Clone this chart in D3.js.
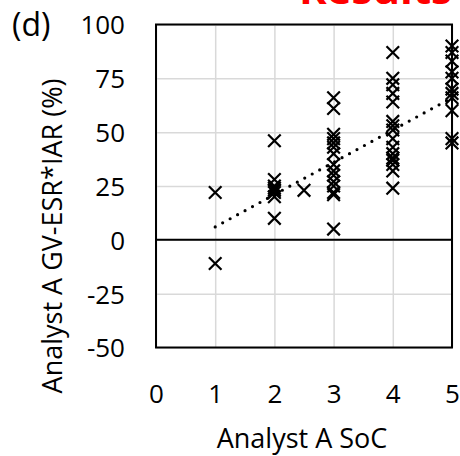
<!DOCTYPE html>
<html>
<head>
<meta charset="utf-8">
<script src="https://cdn.jsdelivr.net/npm/d3@7"></script>
<style>
  body { margin: 0; background: #fff; }
  text { font-family: "Open Sans", "Noto Sans", sans-serif; fill: #000; }
</style>
</head>
<body>
<div id="chart"></div>
<script>
// values
var socLevels = [1, 1, 2, 2, 2, 2, 2, 2, 2, 2, 2.5,
  3, 3, 3, 3, 3, 3, 3, 3, 3, 3, 3, 3, 3, 3, 3,
  4, 4, 4, 4, 4, 4, 4, 4, 4, 4, 4, 4, 4, 4, 4, 4,
  5, 5, 5, 5, 5, 5, 5, 5, 5, 5, 5];
var gvValues = [22, -11, 46, 28, 25, 24, 23, 22, 20, 10, 23,
  66, 61, 49, 47, 45, 43, 40, 35, 32, 30, 27, 25, 22, 21, 5,
  87, 75, 72, 68, 64, 55, 53, 51, 47, 43, 40, 38, 37, 35, 32, 24,
  90, 87, 83, 78, 75, 70, 68, 66, 60, 47, 45];
var trendX = [1, 5];
var trendY = [6, 66];
var xTicks = [0, 1, 2, 3, 4, 5];
var yTicks = [-50, -25, 0, 25, 50, 75, 100];

var W = 460, H = 456;
var margin = {top: 24.5, right: 8, bottom: 108.5, left: 156};
var width = W - margin.left - margin.right,
    height = H - margin.top - margin.bottom;

var svg = d3.select("#chart").append("svg")
  .attr("width", W)
  .attr("height", H);

// red heading cut off at the top
svg.append("text")
  .attr("x", 452)
  .attr("y", 4)
  .attr("text-anchor", "end")
  .style("font-size", "42px")
  .style("font-weight", "bold")
  .style("fill", "#ff0000")
  .text("Results");

svg.append("text")
  .attr("x", 12)
  .attr("y", 36)
  .style("font-size", "32px")
  .text("(d)");

var g = svg.append("g")
  .attr("transform", "translate(" + margin.left + "," + margin.top + ")");

var x = d3.scaleLinear().domain([0, 5]).range([0, width]);
var y = d3.scaleLinear().domain([-50, 100]).range([height, 0]);

// gridlines
g.append("g")
  .attr("class", "grid")
  .call(d3.axisLeft(y).tickValues(yTicks).tickSize(-width).tickFormat(""))
  .call(function(s) { s.select(".domain").remove(); });
g.append("g")
  .attr("class", "grid")
  .attr("transform", "translate(0," + height + ")")
  .call(d3.axisBottom(x).tickValues(xTicks).tickSize(-height).tickFormat(""))
  .call(function(s) { s.select(".domain").remove(); });
g.selectAll(".grid line")
  .style("stroke", "#d9d9d9")
  .style("stroke-width", 1.5);

// tick labels
var yAxis = g.append("g")
  .call(d3.axisLeft(y).tickValues(yTicks).tickSize(0).tickPadding(31)
    .tickFormat(function(d) { return String(d); }));
yAxis.select(".domain").remove();
yAxis.selectAll("text")
  .style("font-size", "26px")
  .style("font-family", "'Open Sans', sans-serif")
  .attr("dy", "0.36em");

var xAxis = g.append("g")
  .attr("transform", "translate(0," + height + ")")
  .call(d3.axisBottom(x).tickValues(xTicks).tickSize(0).tickPadding(55)
    .tickFormat(function(d) { return String(d); }));
xAxis.select(".domain").remove();
xAxis.selectAll("text")
  .style("font-size", "26px")
  .style("font-family", "'Open Sans', sans-serif")
  .attr("dy", "0");

// zero line
g.append("line")
  .attr("x1", 0).attr("x2", width)
  .attr("y1", y(0)).attr("y2", y(0))
  .style("stroke", "#000")
  .style("stroke-width", 2);

// plot border
g.append("rect")
  .attr("width", width)
  .attr("height", height)
  .style("fill", "none")
  .style("stroke", "#000")
  .style("stroke-width", 2);

// trend line (dotted)
g.append("line")
  .attr("x1", x(trendX[0])).attr("y1", y(trendY[0]))
  .attr("x2", x(trendX[1])).attr("y2", y(trendY[1]))
  .style("stroke", "#000")
  .style("stroke-width", 3.2)
  .style("stroke-linecap", "round")
  .style("stroke-dasharray", "0 8.5");

// x markers
var s = 6.3;
g.selectAll("path.pt")
  .data(socLevels)
  .enter()
  .append("path")
  .attr("class", "pt")
  .attr("d", function(d, i) {
    var px = x(d), py = y(gvValues[i]);
    return "M" + (px - s) + "," + (py - s) + "L" + (px + s) + "," + (py + s) +
           "M" + (px - s) + "," + (py + s) + "L" + (px + s) + "," + (py - s);
  })
  .style("stroke", "#000")
  .style("stroke-width", 2.2)
  .style("fill", "none");

// axis titles
svg.append("text")
  .attr("x", 302)
  .attr("y", 448)
  .attr("text-anchor", "middle")
  .style("font-size", "27px")
  .text("Analyst A SoC");

svg.append("text")
  .attr("transform", "translate(62,236) rotate(-90)")
  .attr("text-anchor", "middle")
  .style("font-size", "27px")
  .text("Analyst A GV-ESR*IAR (%)");
</script>
</body>
</html>
